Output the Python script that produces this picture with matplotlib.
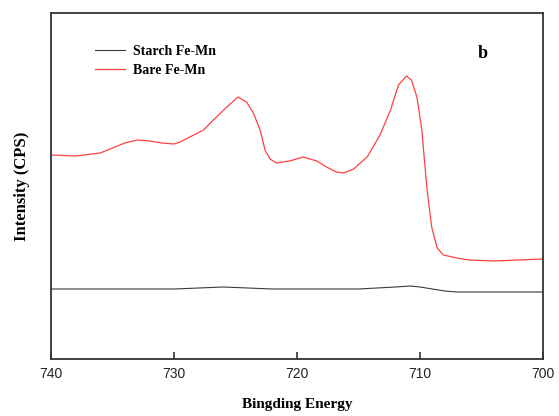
import matplotlib
matplotlib.use("Agg")
import matplotlib.pyplot as plt

# Binding energy (eV) and intensity (arbitrary units)
bare_energy = [740, 738, 736, 735, 734, 733, 732, 731, 730, 729.5, 728.4, 727.6, 726.8, 725.7,
               724.8, 724.1, 723.55, 723.0, 722.6, 722.2, 721.65, 720.6, 719.5, 718.4, 717.6,
               716.8, 716.2, 715.4, 714.3, 713.25, 712.4, 711.75, 711.1, 710.7, 710.25, 709.85,
               709.45, 709.05, 708.6, 708.1, 707.0, 706, 704, 702, 700]
bare_int = [204, 203, 206, 211, 216, 219, 218, 216, 215, 217, 224, 229, 239, 252,
            262, 257, 246, 229, 209, 200, 196, 198, 202, 198, 192,
            187, 186, 190, 202, 224, 249, 274, 283, 279, 262, 229,
            172, 132, 111, 104, 101, 99, 98, 99, 100]

starch_energy = [740, 735, 730, 726, 722, 720, 715, 712, 710.8, 710, 709, 708, 707, 704, 700]
starch_int = [70, 70, 70, 72, 70, 70, 70, 72, 73, 72, 70, 68, 67, 67, 67]

xticks = [740, 730, 720, 710, 700]

W, H = 559, 416
fig = plt.figure(figsize=(W / 100, H / 100), dpi=100)
ax = fig.add_axes([51 / W, 57 / H, 492 / W, 346 / H])

ax.plot(starch_energy, starch_int, color="#3a3a3a", lw=0.8, label="Starch Fe-Mn")
ax.plot(bare_energy, bare_int, color="#ff4040", lw=0.9, label="Bare Fe-Mn")

ax.set_xlim(740, 700)
ax.set_ylim(0, 346)
ax.set_xticks(xticks)
ax.set_xticklabels([str(t) for t in xticks], fontfamily="Liberation Sans", fontsize=10, color="#222222")
ax.set_yticks([])
ax.tick_params(axis="x", direction="in", length=5, width=1.2, color="#333333", pad=6)
for s in ax.spines.values():
    s.set_linewidth(1.3)
    s.set_color("#333333")

ax.set_xlabel("Bingding Energy", fontfamily="Liberation Serif", fontweight="bold", fontsize=11, labelpad=12)
ax.set_ylabel("Intensity (CPS)", fontfamily="Liberation Serif", fontweight="bold", fontsize=12, labelpad=15)

leg = ax.legend(loc="upper left", bbox_to_anchor=(95 / W, (H - 45) / H), bbox_transform=fig.transFigure,
                frameon=False, borderpad=0, borderaxespad=0,
                prop={"family": "Liberation Serif", "weight": "bold", "size": 10},
                handlelength=2.16, handletextpad=0.58, labelspacing=0.45)

fig.text(483 / W, (H - 53) / H, "b", fontfamily="Liberation Serif",
         fontweight="bold", fontsize=13, ha="center", va="center")

fig.savefig("out.png", dpi=100)
